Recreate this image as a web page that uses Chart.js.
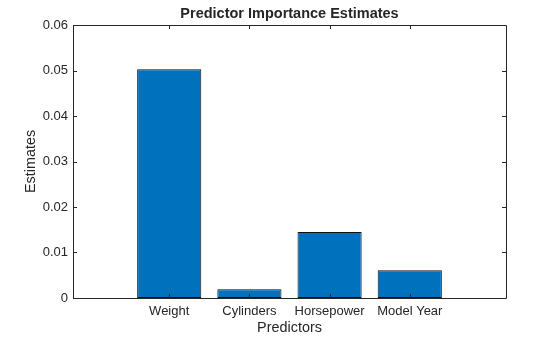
<!DOCTYPE html>
<html lang="en">
<head>
  <meta charset="UTF-8">
  <title>Predictor Importance Estimates</title>
  <script src="https://cdn.jsdelivr.net/npm/chart.js"></script>
  <style>
    body {
      margin: 0;
      background-color: #fff;
    }
    #wrap {
      width: 560px;
      height: 337px;
    }
  </style>
</head>
<body>
  <div id="wrap">
    <canvas id="importanceChart" width="560" height="337"></canvas>
  </div>

  <script>
    const predictors = ['Weight', 'Cylinders', 'Horsepower', 'Model Year'];
    const estimates = [0.0503, 0.0019, 0.0145, 0.0061];
    const yTicks = [0, 0.01, 0.02, 0.03, 0.04, 0.05, 0.06];

    const axisColor = '#262626';
    const fontFamily = 'Liberation Sans, Arial, Helvetica, sans-serif';

    // MATLAB style box with inward ticks on all four sides
    const boxPlugin = {
      id: 'matlabBox',
      afterDatasetsDraw(chart) {
        const { ctx, chartArea: a, scales } = chart;
        const len = 4;
        ctx.save();
        ctx.strokeStyle = axisColor;
        ctx.lineWidth = 1;
        ctx.beginPath();
        ctx.rect(Math.round(a.left) + 0.5, Math.round(a.top) + 0.5,
                 Math.round(a.right) - Math.round(a.left), Math.round(a.bottom) - Math.round(a.top));
        scales.x.ticks.forEach(t => {
          const px = Math.round(scales.x.getPixelForValue(t.value)) + 0.5;
          ctx.moveTo(px, a.bottom); ctx.lineTo(px, a.bottom - len);
          ctx.moveTo(px, a.top); ctx.lineTo(px, a.top + len);
        });
        scales.y.ticks.forEach(t => {
          const py = Math.round(scales.y.getPixelForValue(t.value)) + 0.5;
          ctx.moveTo(a.left, py); ctx.lineTo(a.left + len, py);
          ctx.moveTo(a.right, py); ctx.lineTo(a.right - len, py);
        });
        ctx.stroke();
        ctx.restore();
      }
    };

    new Chart(document.getElementById('importanceChart'), {
      type: 'bar',
      data: {
        datasets: [{
          data: predictors.map((p, i) => ({ x: i + 1, y: estimates[i] })),
          backgroundColor: '#0072BD',
          borderColor: '#111',
          borderWidth: 1,
          borderSkipped: false,
          categoryPercentage: 1,
          barPercentage: 0.8
        }]
      },
      options: {
        responsive: false,
        animation: false,
        events: [],
        layout: { padding: { left: 0, right: 54, top: 0, bottom: 0 } },
        plugins: {
          legend: { display: false },
          tooltip: { enabled: false },
          title: {
            display: true,
            text: 'Predictor Importance Estimates',
            fullSize: false,
            color: axisColor,
            font: { family: fontFamily, size: 14.5, weight: 'bold' },
            padding: { top: 5.7, bottom: 1.9 }
          }
        },
        scales: {
          x: {
            type: 'linear',
            offset: false,
            min: -0.2,
            max: 5.2,
            grid: { display: false, drawTicks: false, offset: false },
            border: { display: false },
            afterBuildTicks: s => { s.ticks = predictors.map((p, i) => ({ value: i + 1 })); },
            afterFit: s => { s.height = 39; },
            ticks: {
              color: axisColor,
              padding: 6,
              maxRotation: 0,
              autoSkip: false,
              font: { family: fontFamily, size: 13 },
              callback: v => predictors[v - 1]
            },
            title: {
              display: true,
              text: 'Predictors',
              color: axisColor,
              font: { family: fontFamily, size: 14.4 },
              padding: { top: 0, bottom: 0 }
            }
          },
          y: {
            min: 0,
            max: 0.06,
            grid: { display: false, drawTicks: false },
            border: { display: false },
            afterBuildTicks: s => { s.ticks = yTicks.map(v => ({ value: v })); },
            afterFit: s => { s.width = 73; },
            ticks: {
              color: axisColor,
              padding: 5,
              font: { family: fontFamily, size: 13 },
              callback: v => v === 0 ? '0' : v.toFixed(2)
            },
            title: {
              display: true,
              text: 'Estimates',
              color: axisColor,
              font: { family: fontFamily, size: 14.4 },
              padding: { top: 22, bottom: 0 }
            }
          }
        }
      },
      plugins: [boxPlugin]
    });
  </script>
</body>
</html>
